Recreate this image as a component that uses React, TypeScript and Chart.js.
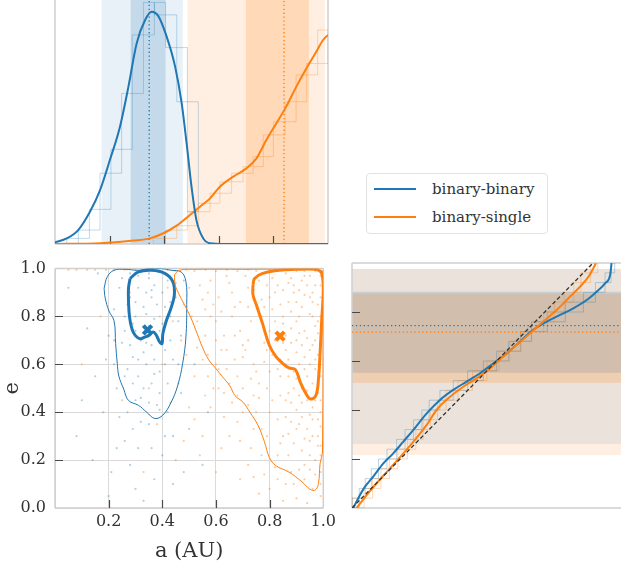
import React, { useEffect, useRef } from "react";
import { Chart, registerables } from "chart.js";
Chart.register(...registerables);

// ---------- data ----------
const seriesNames = ["binary-binary", "binary-single"];

// top marginal: KDE of a
const bbKdeA = [0, 0.043, 0.085, 0.128, 0.165, 0.201, 0.238, 0.269, 0.299, 0.33, 0.354, 0.378, 0.409, 0.44, 0.464, 0.482, 0.5, 0.518, 0.543, 0.568, 0.62, 1.0];
const bbKdeD = [0.007, 0.023, 0.057, 0.132, 0.221, 0.344, 0.481, 0.645, 0.822, 0.918, 0.952, 0.935, 0.85, 0.727, 0.577, 0.413, 0.235, 0.098, 0.023, 0.003, 0, 0];
const bsKdeA = [0, 0.165, 0.287, 0.348, 0.397, 0.444, 0.494, 0.531, 0.568, 0.604, 0.653, 0.701, 0.738, 0.774, 0.811, 0.847, 0.884, 0.921, 0.957, 0.982, 1.0];
const bsKdeD = [0, 0.003, 0.014, 0.023, 0.044, 0.074, 0.119, 0.153, 0.187, 0.235, 0.276, 0.31, 0.351, 0.426, 0.495, 0.563, 0.645, 0.72, 0.788, 0.836, 0.857];

// top marginal: histograms of a
const bbHistEdges = [0.043, 0.0855, 0.126, 0.165, 0.205, 0.244, 0.283, 0.324, 0.364, 0.405, 0.446, 0.485, 0.525];
const bbHistVals = [0.023, 0.057, 0.142, 0.29, 0.388, 0.617, 0.857, 0.99, 0.939, 0.805, 0.583, 0.132];
const bsHistEdges = [0.36, 0.405, 0.446, 0.485, 0.525, 0.568, 0.604, 0.647, 0.689, 0.726, 0.763, 0.8, 0.843, 0.883, 0.922, 0.962, 1.0];
const bsHistVals = [0.023, 0.057, 0.075, 0.132, 0.167, 0.208, 0.255, 0.29, 0.317, 0.358, 0.447, 0.501, 0.583, 0.693, 0.74, 0.877];

// credible intervals / medians
const bbAOuter = [0.171, 0.468];
const bbAInner = [0.277, 0.405];
const bbAMedian = 0.345;
const bsAOuter = [0.486, 0.989];
const bsAInner = [0.699, 0.93];
const bsAMedian = 0.839;
const bbEOuter = [0.261, 0.976];
const bbEInner = [0.552, 0.883];
const bbEMedian = 0.744;
const bsEOuter = [0.216, 0.976];
const bsEInner = [0.511, 0.875];
const bsEMedian = 0.718;

// scatter samples (a, e)
const bbSamples = [
  [0.31, 0.92], [0.36, 0.88], [0.34, 0.81], [0.29, 0.77], [0.38, 0.71], [0.33, 0.65], [0.41, 0.84], [0.27, 0.58], [0.36, 0.52], [0.44, 0.62],
  [0.3, 0.45], [0.39, 0.41], [0.25, 0.69], [0.22, 0.83], [0.35, 0.96], [0.42, 0.95], [0.28, 0.98], [0.46, 0.78], [0.32, 0.36], [0.26, 0.28],
  [0.4, 0.22], [0.21, 0.15], [0.37, 0.12], [0.15, 0.55], [0.18, 0.4], [0.47, 0.48], [0.5, 0.33], [0.24, 0.92], [0.33, 0.73], [0.37, 0.79],
  [0.3, 0.86], [0.43, 0.7], [0.34, 0.6], [0.29, 0.63], [0.39, 0.57], [0.23, 0.5], [0.45, 0.88], [0.12, 0.75], [0.08, 0.3], [0.55, 0.18],
  [0.2, 0.05], [0.33, 0.03], [0.48, 0.95], [0.26, 0.74], [0.36, 0.68], [0.31, 0.55], [0.4, 0.9], [0.35, 0.44], [0.19, 0.62], [0.44, 0.3],
  [0.28, 0.18], [0.05, 0.92], [0.16, 0.98], [0.52, 0.6], [0.38, 0.99], [0.32, 0.99], [0.27, 0.85], [0.42, 0.52], [0.24, 0.38], [0.36, 0.25],
  [0.34, 0.9], [0.3, 0.8], [0.38, 0.85], [0.35, 0.76], [0.32, 0.7], [0.4, 0.77], [0.37, 0.62], [0.28, 0.68], [0.33, 0.5], [0.41, 0.66],
  [0.26, 0.8], [0.43, 0.8], [0.31, 0.97], [0.37, 0.93], [0.29, 0.52], [0.35, 0.35], [0.42, 0.4], [0.22, 0.6], [0.2, 0.72], [0.46, 0.6],
  [0.27, 0.4], [0.39, 0.48], [0.31, 0.25], [0.48, 0.15], [0.14, 0.2], [0.1, 0.45], [0.57, 0.4], [0.23, 0.25], [0.44, 0.1], [0.3, 0.08],
  [0.33, 0.84], [0.36, 0.91], [0.3, 0.74], [0.39, 0.74], [0.34, 0.69], [0.31, 0.62], [0.37, 0.56], [0.41, 0.6], [0.28, 0.88], [0.43, 0.86],
  [0.35, 0.98], [0.25, 0.96], [0.45, 0.94], [0.32, 0.46], [0.38, 0.43], [0.26, 0.55], [0.22, 0.7], [0.47, 0.72], [0.29, 0.33], [0.41, 0.3],
];
const bsSamples = [
  [0.92, 0.95], [0.95, 0.88], [0.88, 0.82], [0.97, 0.76], [0.85, 0.91], [0.9, 0.7], [0.98, 0.64], [0.82, 0.78], [0.93, 0.58], [0.87, 0.62],
  [0.96, 0.52], [0.8, 0.88], [0.76, 0.95], [0.72, 0.84], [0.78, 0.69], [0.84, 0.55], [0.91, 0.47], [0.99, 0.4], [0.94, 0.33], [0.89, 0.27],
  [0.97, 0.2], [0.93, 0.12], [0.86, 0.38], [0.81, 0.45], [0.74, 0.6], [0.69, 0.74], [0.66, 0.9], [0.62, 0.82], [0.58, 0.95], [0.55, 0.87],
  [0.6, 0.7], [0.64, 0.58], [0.7, 0.5], [0.75, 0.4], [0.79, 0.3], [0.83, 0.22], [0.88, 0.15], [0.96, 0.08], [0.99, 0.97], [0.97, 0.99],
  [0.9, 0.99], [0.83, 0.99], [0.75, 0.99], [0.68, 0.99], [0.6, 0.99], [0.52, 0.99], [0.45, 0.99], [0.38, 0.995], [0.3, 0.995], [0.22, 0.995],
  [0.15, 0.995], [0.08, 0.995], [0.5, 0.92], [0.53, 0.78], [0.57, 0.64], [0.63, 0.48], [0.68, 0.36], [0.73, 0.25], [0.78, 0.14], [0.71, 0.66],
  [0.77, 0.8], [0.86, 0.72], [0.92, 0.84], [0.95, 0.66], [0.99, 0.55], [0.98, 0.85], [0.94, 0.93], [0.89, 0.9], [0.81, 0.64], [0.87, 0.48],
  [0.92, 0.38], [0.96, 0.3], [0.99, 0.22], [0.85, 0.3], [0.67, 0.62], [0.61, 0.88], [0.56, 0.72], [0.48, 0.85], [0.52, 0.55], [0.58, 0.42],
  [0.65, 0.3], [0.72, 0.18], [0.8, 0.08], [0.9, 0.04], [0.99, 0.1], [0.93, 0.74], [0.97, 0.7], [0.91, 0.6], [0.84, 0.85], [0.79, 0.93],
  [0.73, 0.78], [0.69, 0.86], [0.95, 0.97], [0.88, 0.96], [0.82, 0.7], [0.76, 0.52], [0.62, 0.66], [0.42, 0.92], [0.47, 0.7], [0.35, 0.5],
  [0.55, 0.3], [0.6, 0.15], [0.45, 0.2], [0.98, 0.48], [0.94, 0.45], [0.9, 0.54], [0.86, 0.6], [0.99, 0.8], [0.96, 0.9],
  [0.91, 0.91], [0.87, 0.86], [0.83, 0.93], [0.95, 0.81], [0.98, 0.73], [0.9, 0.78], [0.86, 0.66], [0.93, 0.63], [0.97, 0.58], [0.89, 0.57],
  [0.84, 0.62], [0.8, 0.74], [0.77, 0.87], [0.74, 0.91], [0.71, 0.97], [0.66, 0.8], [0.63, 0.72], [0.59, 0.85], [0.54, 0.93], [0.51, 0.8],
  [0.57, 0.55], [0.61, 0.5], [0.66, 0.44], [0.7, 0.4], [0.74, 0.33], [0.77, 0.22], [0.82, 0.17], [0.86, 0.1], [0.92, 0.24], [0.95, 0.16],
  [0.98, 0.3], [0.96, 0.42], [0.92, 0.5], [0.88, 0.44], [0.83, 0.37], [0.79, 0.5], [0.75, 0.57], [0.72, 0.7], [0.68, 0.55], [0.64, 0.66],
  [0.6, 0.78], [0.56, 0.83], [0.49, 0.64], [0.46, 0.52], [0.5, 0.42], [0.54, 0.22], [0.62, 0.25], [0.69, 0.12], [0.76, 0.06], [0.85, 0.03],
  [0.94, 0.02], [0.99, 0.05], [0.97, 0.14], [0.99, 0.34], [0.97, 0.62], [0.99, 0.69], [0.99, 0.88], [0.96, 0.8], [0.93, 0.89], [0.9, 0.86],
  [0.87, 0.94], [0.81, 0.83], [0.78, 0.61], [0.74, 0.47], [0.7, 0.63], [0.65, 0.94], [0.57, 0.9], [0.53, 0.67], [0.44, 0.78], [0.4, 0.6],
  [0.38, 0.35], [0.33, 0.15], [0.25, 0.45], [0.17, 0.8], [0.1, 0.6], [0.28, 0.9], [0.41, 0.98], [0.6, 0.6], [0.67, 0.72], [0.72, 0.92],
  [0.85, 0.8], [0.88, 0.69], [0.91, 0.73], [0.94, 0.55], [0.96, 0.37], [0.9, 0.33], [0.87, 0.22], [0.93, 0.18], [0.98, 0.26], [0.99, 0.45],
  [0.93, 0.97], [0.89, 0.93], [0.96, 0.86], [0.91, 0.8], [0.85, 0.77], [0.82, 0.9], [0.78, 0.84], [0.94, 0.71], [0.9, 0.65], [0.87, 0.55],
  [0.95, 0.6], [0.99, 0.62], [0.92, 0.44], [0.88, 0.36], [0.95, 0.28], [0.99, 0.15], [0.91, 0.16], [0.84, 0.27], [0.8, 0.4], [0.76, 0.46],
  [0.73, 0.54], [0.7, 0.68], [0.67, 0.84], [0.64, 0.97], [0.58, 0.8], [0.55, 0.62], [0.59, 0.5], [0.63, 0.38], [0.69, 0.28], [0.74, 0.13],
  [0.97, 0.93], [0.98, 0.78], [0.96, 0.68], [0.94, 0.49], [0.97, 0.45], [0.91, 0.35], [0.89, 0.5], [0.86, 0.45], [0.83, 0.58], [0.79, 0.66],
  [0.81, 0.96], [0.86, 0.98], [0.72, 0.995], [0.64, 0.995], [0.56, 0.995], [0.49, 0.995], [0.42, 0.995], [0.34, 0.995], [0.26, 0.995], [0.19, 0.995],
  [0.12, 0.995], [0.05, 0.995], [0.97, 0.995], [0.93, 0.99], [0.99, 0.93], [0.98, 0.57], [0.99, 0.26], [0.95, 0.22], [0.89, 0.1], [0.83, 0.12],
  [0.77, 0.33], [0.72, 0.43], [0.68, 0.47], [0.65, 0.52], [0.61, 0.58], [0.56, 0.47], [0.52, 0.37], [0.48, 0.28], [0.43, 0.44], [0.39, 0.8],
  [0.88, 0.75], [0.92, 0.68], [0.85, 0.69], [0.8, 0.57], [0.84, 0.47], [0.9, 0.41], [0.95, 0.39], [0.98, 0.37], [0.93, 0.29], [0.87, 0.31],
];

// contours (a, e)
const bbInnerA = [0.28, 0.311, 0.36, 0.409, 0.439, 0.445, 0.433, 0.415, 0.402, 0.399, 0.39, 0.378, 0.366, 0.35, 0.335, 0.317, 0.299, 0.287, 0.278, 0.274, 0.274, 0.28];
const bbInnerE = [0.959, 0.986, 0.993, 0.98, 0.946, 0.891, 0.837, 0.782, 0.728, 0.687, 0.694, 0.721, 0.735, 0.721, 0.714, 0.707, 0.721, 0.748, 0.796, 0.864, 0.918, 0.959];
const bbOuterA = [0.183, 0.195, 0.22, 0.262, 0.311, 0.348, 0.396, 0.433, 0.47, 0.488, 0.491, 0.488, 0.476, 0.457, 0.433, 0.402, 0.372, 0.341, 0.311, 0.274, 0.256, 0.238, 0.232, 0.226, 0.22, 0.201, 0.187, 0.183];
const bbOuterE = [0.918, 0.966, 0.993, 0.997, 0.993, 1.0, 1.0, 0.993, 0.986, 0.946, 0.85, 0.714, 0.605, 0.51, 0.442, 0.388, 0.374, 0.401, 0.429, 0.449, 0.497, 0.551, 0.605, 0.687, 0.782, 0.823, 0.878, 0.918];
const bsInnerA = [0.738, 0.744, 0.774, 0.835, 0.896, 0.97, 0.994, 1.0, 0.994, 0.988, 0.982, 0.972, 0.951, 0.933, 0.915, 0.896, 0.872, 0.848, 0.823, 0.799, 0.774, 0.75, 0.738, 0.738];
const bsInnerE = [0.932, 0.959, 0.98, 0.993, 0.997, 0.997, 0.98, 0.918, 0.782, 0.646, 0.537, 0.469, 0.456, 0.483, 0.524, 0.578, 0.585, 0.605, 0.633, 0.68, 0.769, 0.85, 0.891, 0.932];
const bsOuterA = [0.445, 0.463, 0.53, 0.7, 0.85, 0.997, 0.997, 0.988, 0.982, 0.97, 0.951, 0.921, 0.872, 0.823, 0.799, 0.78, 0.756, 0.726, 0.701, 0.671, 0.652, 0.622, 0.598, 0.573, 0.549, 0.53, 0.506, 0.482, 0.463, 0.448, 0.445];
const bsOuterE = [0.973, 0.993, 0.997, 0.997, 0.997, 0.99, 0.238, 0.184, 0.102, 0.075, 0.078, 0.109, 0.15, 0.177, 0.211, 0.279, 0.347, 0.401, 0.442, 0.469, 0.51, 0.551, 0.585, 0.619, 0.673, 0.728, 0.796, 0.85, 0.891, 0.932, 0.973];

// right marginal: cumulative distribution of e
const eEdges = [0, 0.04, 0.08, 0.12, 0.16, 0.2, 0.24, 0.28, 0.32, 0.36, 0.4, 0.44, 0.48, 0.52, 0.56, 0.6, 0.64, 0.68, 0.72, 0.76, 0.8, 0.84, 0.88, 0.92, 0.96, 1.0];
const bbCumHist = [0, 0.03, 0.055, 0.08, 0.11, 0.145, 0.185, 0.22, 0.255, 0.29, 0.32, 0.365, 0.42, 0.48, 0.545, 0.6, 0.65, 0.7, 0.745, 0.81, 0.885, 0.96, 1.01, 1.05, 1.075, 1.09];
const bsCumHist = [0, 0.05, 0.085, 0.12, 0.155, 0.19, 0.23, 0.265, 0.295, 0.325, 0.355, 0.39, 0.44, 0.5, 0.56, 0.61, 0.655, 0.7, 0.745, 0.795, 0.84, 0.88, 0.92, 0.95, 0.99, 1.02];
const bbCdfX = [0.0055, 0.026, 0.054, 0.088, 0.13, 0.171, 0.213, 0.254, 0.31, 0.365, 0.42, 0.476, 0.531, 0.586, 0.642, 0.697, 0.752, 0.808, 0.863, 0.918, 0.974, 1.015, 1.05, 1.071, 1.077];
const bbCdfE = [0.0, 0.04, 0.087, 0.128, 0.182, 0.223, 0.271, 0.318, 0.386, 0.441, 0.482, 0.516, 0.55, 0.59, 0.631, 0.679, 0.727, 0.761, 0.788, 0.815, 0.849, 0.883, 0.917, 0.951, 0.999];
const bsCdfX = [0.019, 0.061, 0.102, 0.158, 0.213, 0.261, 0.31, 0.351, 0.407, 0.462, 0.517, 0.573, 0.628, 0.683, 0.739, 0.794, 0.849, 0.905, 0.946, 0.981, 1.001, 1.012];
const bsCdfE = [0.0, 0.053, 0.101, 0.162, 0.223, 0.278, 0.339, 0.4, 0.454, 0.495, 0.529, 0.57, 0.618, 0.665, 0.713, 0.761, 0.808, 0.863, 0.903, 0.944, 0.978, 0.999];
const uniformX = [0, 1];
const uniformE = [0, 1];

const axisTicks = [0, 0.2, 0.4, 0.6, 0.8, 1.0];
const innerTicks = [0.2, 0.4, 0.6, 0.8];

// ---------- styling ----------
const BLUE = "#1f77b4";
const ORANGE = "#ff7f0e";
const rgba = (hex: string, a: number) => {
  const n = parseInt(hex.slice(1), 16);
  return `rgba(${(n >> 16) & 255},${(n >> 8) & 255},${n & 255},${a})`;
};
const FONT = '"DejaVu Serif", "Liberation Serif", serif';

const pts = (xs: number[], ys: number[]) => xs.map((x, i) => ({ x, y: ys[i] }));
const histPts = (edges: number[], vals: number[]) => [{ x: edges[0], y: 0 }, ...vals.map((v, i) => ({ x: edges[i + 1], y: v }))];

const line = (data: any[], color: string, width: number, extra: any = {}) => ({
  data,
  showLine: true,
  borderColor: color,
  backgroundColor: color,
  borderWidth: width,
  pointRadius: 0,
  fill: false,
  ...extra,
});
const ordered = (ds: any[]) => ds.map((d, i) => ({ ...d, order: ds.length - i }));

const decorPlugin = {
  id: "decor",
  beforeDatasetsDraw(chart: any, _args: any, opts: any) {
    const { ctx, chartArea } = chart;
    const { left, right, top, bottom } = chartArea;
    const xs = chart.scales.x;
    const ys = chart.scales.y;
    ctx.save();
    (opts.vbands || []).forEach((b: any) => {
      const x1 = xs.getPixelForValue(b.range[0]);
      const x2 = xs.getPixelForValue(b.range[1]);
      ctx.fillStyle = b.color;
      ctx.fillRect(x1, top, x2 - x1, bottom - top);
    });
    (opts.hbands || []).forEach((b: any) => {
      const y1 = ys.getPixelForValue(b.range[1]);
      const y2 = ys.getPixelForValue(b.range[0]);
      ctx.fillStyle = b.color;
      ctx.fillRect(left, y1, right - left, y2 - y1);
    });
    const sides: string = opts.sides || "tlbr";
    ctx.strokeStyle = "#cfcfcf";
    ctx.lineWidth = 1.5;
    ctx.beginPath();
    if (sides.includes("t")) { ctx.moveTo(left, top); ctx.lineTo(right, top); }
    if (sides.includes("b")) { ctx.moveTo(left, bottom); ctx.lineTo(right, bottom); }
    if (sides.includes("l")) { ctx.moveTo(left, top); ctx.lineTo(left, bottom); }
    if (sides.includes("r")) { ctx.moveTo(right, top); ctx.lineTo(right, bottom); }
    ctx.stroke();
    ctx.strokeStyle = "#4a4a4a";
    ctx.lineWidth = 1.2;
    ctx.beginPath();
    (opts.ticksX || []).forEach((v: number) => {
      const p = Math.round(xs.getPixelForValue(v)) + 0.5;
      ctx.moveTo(p, bottom);
      ctx.lineTo(p, bottom - 8);
    });
    (opts.ticksY || []).forEach((v: number) => {
      const p = Math.round(ys.getPixelForValue(v)) + 0.5;
      ctx.moveTo(left, p);
      ctx.lineTo(left + 8, p);
    });
    ctx.stroke();
    ctx.restore();
  },
};

const baseOptions = (padding: any, scales: any, decor: any) => ({
  animation: false,
  responsive: false,
  events: [],
  layout: { padding, autoPadding: false },
  scales,
  plugins: { legend: { display: false }, tooltip: { enabled: false }, decor },
});

// ---------- chart configs ----------
function topConfig() {
  const datasets = ordered([
    line(histPts(bbHistEdges, bbHistVals), rgba(BLUE, 0.28), 1, { stepped: "before" }),
    line(histPts(bbHistEdges, bbHistVals), rgba(BLUE, 0.28), 1, { stepped: "after" }),
    line(histPts(bsHistEdges, bsHistVals), rgba(ORANGE, 0.3), 1, { stepped: "before" }),
    line(histPts(bsHistEdges, bsHistVals), rgba(ORANGE, 0.3), 1, { stepped: "after" }),
    line(pts([bbAMedian, bbAMedian], [0, 1.05]), BLUE, 1.3, { borderDash: [1.3, 2.6] }),
    line(pts([bsAMedian, bsAMedian], [0, 1.05]), ORANGE, 1.3, { borderDash: [1.3, 2.6] }),
    line(pts(bsKdeA, bsKdeD), ORANGE, 2, { cubicInterpolationMode: "monotone" }),
    line(pts(bbKdeA, bbKdeD), BLUE, 2, { cubicInterpolationMode: "monotone" }),
  ]);
  return {
    type: "scatter",
    data: { datasets },
    options: baseOptions(
      { left: 55, right: 12, top: 0, bottom: 6 },
      { x: { type: "linear", display: false, min: 0, max: 1 }, y: { type: "linear", display: false, min: 0, max: 1 } },
      {
        vbands: [
          { range: bbAOuter, color: rgba(BLUE, 0.1) },
          { range: bbAInner, color: rgba(BLUE, 0.18) },
          { range: bsAOuter, color: rgba(ORANGE, 0.12) },
          { range: bsAInner, color: rgba(ORANGE, 0.2) },
        ],
        sides: "lbr",
        ticksX: innerTicks,
      }
    ),
    plugins: [decorPlugin],
  };
}

function scatterConfig() {
  const tickFont = { family: FONT, size: 16 };
  const titleFont = { family: FONT, size: 21 };
  const datasets = ordered([
    {
      data: bbSamples.map(([x, y]) => ({ x, y })),
      pointRadius: 1.1,
      pointBorderWidth: 0,
      pointBackgroundColor: rgba(BLUE, 0.35),
    },
    {
      data: bsSamples.map(([x, y]) => ({ x, y })),
      pointRadius: 1.1,
      pointBorderWidth: 0,
      pointBackgroundColor: rgba(ORANGE, 0.4),
    },
    line(pts(bbOuterA, bbOuterE), BLUE, 1, { tension: 0.4 }),
    line(pts(bbInnerA, bbInnerE), BLUE, 3, { tension: 0.4 }),
    line(pts(bsOuterA, bsOuterE), ORANGE, 1, { tension: 0.4 }),
    line(pts(bsInnerA, bsInnerE), ORANGE, 3, { tension: 0.4 }),
    {
      data: [{ x: bbAMedian, y: bbEMedian }],
      pointStyle: "crossRot",
      pointRadius: 6,
      pointBorderWidth: 4,
      pointBorderColor: BLUE,
    },
    {
      data: [{ x: bsAMedian, y: bsEMedian }],
      pointStyle: "crossRot",
      pointRadius: 6,
      pointBorderWidth: 4,
      pointBorderColor: ORANGE,
    },
  ]);
  return {
    type: "scatter",
    data: { datasets },
    options: baseOptions(
      { left: 0, right: 12, top: 13, bottom: 0 },
      {
        x: {
          type: "linear",
          min: 0,
          max: 1,
          afterBuildTicks: (s: any) => { s.ticks = axisTicks.map((v) => ({ value: v })); },
          afterFit: (s: any) => { s.height = 59; },
          ticks: {
            font: tickFont,
            color: "#333",
            padding: 4,
            callback: (v: number) => (v === 0 ? "" : v.toFixed(1)),
          },
          grid: { color: "#dadada", lineWidth: 1, drawTicks: false },
          border: { display: false },
          title: { display: true, text: "a (AU)", font: titleFont, color: "#333", padding: { top: 0, bottom: 3 } },
        },
        y: {
          type: "linear",
          min: 0,
          max: 1,
          afterBuildTicks: (s: any) => { s.ticks = axisTicks.map((v) => ({ value: v })); },
          afterFit: (s: any) => { s.width = 55; },
          ticks: { font: tickFont, color: "#333", padding: 9, callback: (v: number) => v.toFixed(1) },
          grid: { color: "#dadada", lineWidth: 1, drawTicks: false },
          border: { display: false },
          title: { display: true, text: "e", font: titleFont, color: "#333", padding: { top: 0, bottom: 0 } },
        },
      },
      { sides: "tlbr", ticksX: innerTicks, ticksY: innerTicks }
    ),
    plugins: [decorPlugin],
  };
}

function rightConfig() {
  const datasets = ordered([
    line(pts(bbCumHist, eEdges), rgba(BLUE, 0.3), 1, { stepped: "before" }),
    line(pts(bbCumHist, eEdges), rgba(BLUE, 0.3), 1, { stepped: "after" }),
    line(pts(bsCumHist, eEdges), rgba(ORANGE, 0.3), 1, { stepped: "before" }),
    line(pts(bsCumHist, eEdges), rgba(ORANGE, 0.3), 1, { stepped: "after" }),
    line(pts([0, 1.3], [bbEMedian, bbEMedian]), BLUE, 1.3, { borderDash: [1.3, 2.6] }),
    line(pts([0, 1.3], [bsEMedian, bsEMedian]), ORANGE, 1.3, { borderDash: [1.3, 2.6] }),
    line(pts(bbCdfX, bbCdfE), BLUE, 2, { cubicInterpolationMode: "monotone" }),
    line(pts(bsCdfX, bsCdfE), ORANGE, 2, { cubicInterpolationMode: "monotone" }),
    line(pts(uniformX, uniformE), "#333", 1.3, { borderDash: [4, 2.5] }),
  ]);
  return {
    type: "scatter",
    data: { datasets },
    options: baseOptions(
      { left: 12, right: 0, top: 13, bottom: 59 },
      { x: { type: "linear", display: false, min: 0, max: 1.195 }, y: { type: "linear", display: false, min: 0, max: 1 } },
      {
        hbands: [
          { range: bbEOuter, color: rgba(BLUE, 0.1) },
          { range: bsEOuter, color: rgba(ORANGE, 0.12) },
          { range: bbEInner, color: rgba(BLUE, 0.18) },
          { range: bsEInner, color: rgba(ORANGE, 0.2) },
        ],
        sides: "tlb",
        ticksY: innerTicks,
      }
    ),
    plugins: [decorPlugin],
  };
}

// ---------- components ----------
function ChartCanvas(props: { left: number; top: number; width: number; height: number; make: () => any }) {
  const ref = useRef<HTMLCanvasElement>(null);
  useEffect(() => {
    const chart = new Chart(ref.current as HTMLCanvasElement, props.make());
    return () => chart.destroy();
  }, []);
  return (
    <canvas
      ref={ref}
      width={props.width}
      height={props.height}
      style={{ position: "absolute", left: props.left, top: props.top, width: props.width, height: props.height }}
    />
  );
}

function Legend() {
  const colors = [BLUE, ORANGE];
  return (
    <div
      style={{
        position: "absolute",
        left: 366,
        top: 173,
        width: 182,
        height: 61,
        boxSizing: "border-box",
        border: "1px solid #e2e2e2",
        borderRadius: 4,
        background: "#fff",
      }}
    >
      {seriesNames.map((name, i) => (
        <div key={name} style={{ position: "absolute", left: 0, top: 3 + i * 28, height: 24, width: 180 }}>
          <div style={{ position: "absolute", left: 7, top: 11, width: 42, height: 2, background: colors[i] }} />
          <div
            style={{
              position: "absolute",
              left: 65,
              top: 0,
              lineHeight: "24px",
              fontSize: 15,
              fontFamily: FONT,
              color: "#333",
              whiteSpace: "nowrap",
            }}
          >
            {name}
          </div>
        </div>
      ))}
    </div>
  );
}

export default function App() {
  return (
    <div
      style={{
        position: "fixed",
        left: 0,
        top: 0,
        width: 621,
        height: 567,
        overflow: "hidden",
        background: "#fff",
      }}
    >
      <ChartCanvas left={0} top={0} width={340} height={250} make={topConfig} />
      <ChartCanvas left={0} top={250} width={340} height={317} make={scatterConfig} />
      <ChartCanvas left={340} top={250} width={300} height={317} make={rightConfig} />
      <Legend />
    </div>
  );
}
